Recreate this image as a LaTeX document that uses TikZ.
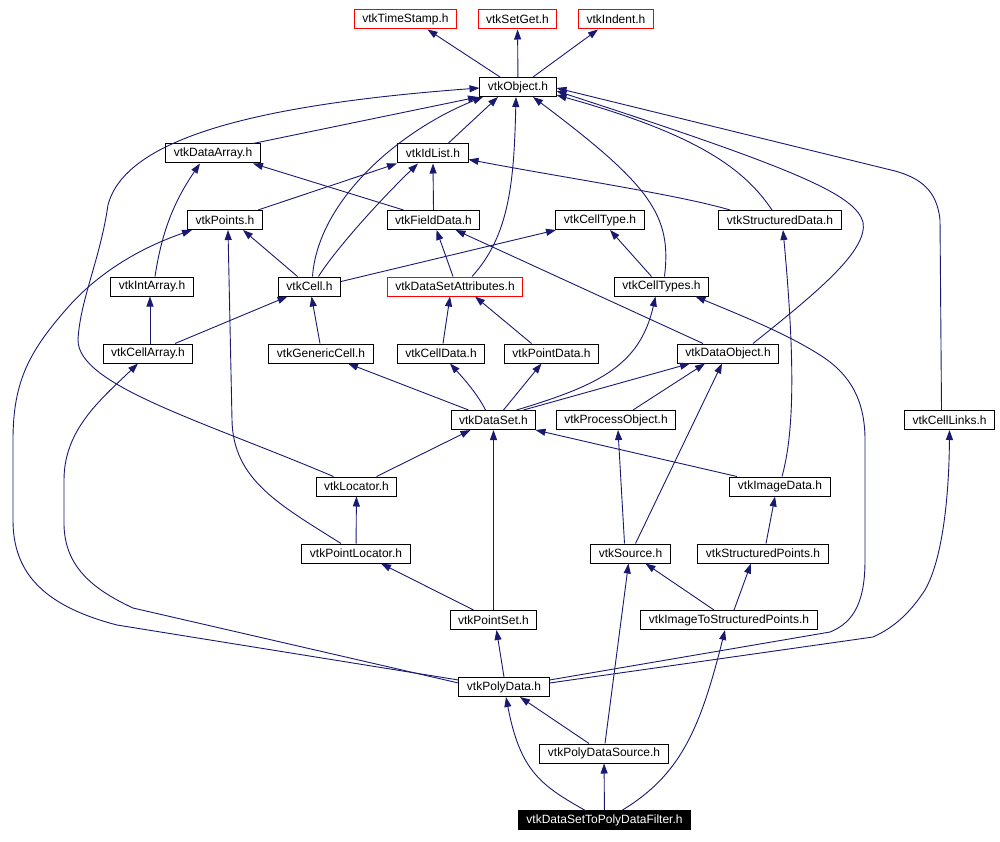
\documentclass[tikz,border=0pt]{standalone}
\usepackage{fontspec}
\setmainfont{Liberation Sans}
\usetikzlibrary{arrows.meta}
\definecolor{edgeblue}{HTML}{191970}

\begin{document}
\begin{tikzpicture}[x=1pt, y=-1pt, >={Triangle[length=10pt,width=7pt]},
  hdr/.style={draw=black, line width=1pt, fill=white, inner xsep=8pt, inner ysep=0pt,
    minimum height=19pt, font=\fontsize{12}{14}\selectfont},
  hdrmissing/.style={hdr, draw=red},
  hdrroot/.style={hdr, fill=black, text=white},
  dep/.style={->, draw=edgeblue, line width=0.9pt}]
  \useasboundingbox (0,0) rectangle (1000,842);

  \node[hdrmissing] (ts) at (405.5,19.5) {vtkTimeStamp.h};
  \node[hdrmissing] (sg) at (517.5,19.5) {vtkSetGet.h};
  \node[hdrmissing] (ind) at (616,19.5) {vtkIndent.h};
  \node[hdr] (obj) at (518,87) {vtkObject.h};
  \node[hdr] (darr) at (213,153.5) {vtkDataArray.h};
  \node[hdr] (idl) at (433,153.5) {vtkIdList.h};
  \node[hdr] (pts) at (225,220) {vtkPoints.h};
  \node[hdr] (fd) at (433.5,220) {vtkFieldData.h};
  \node[hdr] (ct) at (600,220) {vtkCellType.h};
  \node[hdr] (sd) at (780,220) {vtkStructuredData.h};
  \node[hdr] (ia) at (152,286.5) {vtkIntArray.h};
  \node[hdr] (cell) at (309.5,286.5) {vtkCell.h};
  \node[hdrmissing] (dsa) at (455,286.5) {vtkDataSetAttributes.h};
  \node[hdr] (cts) at (661.5,286.5) {vtkCellTypes.h};
  \node[hdr] (ca) at (148,353.5) {vtkCellArray.h};
  \node[hdr] (gc) at (321,353.5) {vtkGenericCell.h};
  \node[hdr] (cd) at (441,353.5) {vtkCellData.h};
  \node[hdr] (pd) at (551.5,353.5) {vtkPointData.h};
  \node[hdr] (dobj) at (728,353.5) {vtkDataObject.h};
  \node[hdr] (ds) at (493.5,420) {vtkDataSet.h};
  \node[hdr] (po) at (616,420) {vtkProcessObject.h};
  \node[hdr] (cl) at (949.5,420) {vtkCellLinks.h};
  \node[hdr] (loc) at (356.5,486.5) {vtkLocator.h};
  \node[hdr] (img) at (780,486.5) {vtkImageData.h};
  \node[hdr] (ploc) at (356,553.5) {vtkPointLocator.h};
  \node[hdr] (src) at (630.5,553.5) {vtkSource.h};
  \node[hdr] (spts) at (763,553.5) {vtkStructuredPoints.h};
  \node[hdr] (pset) at (493.5,620) {vtkPointSet.h};
  \node[hdr] (itsp) at (729,620) {vtkImageToStructuredPoints.h};
  \node[hdr] (poly) at (504,687) {vtkPolyData.h};
  \node[hdr] (pds) at (604,753.5) {vtkPolyDataSource.h};
  \node[hdrroot] (filt) at (604.5,820) {vtkDataSetToPolyDataFilter.h};

  \draw[dep] ([xshift=-18pt]obj.north) -- ([xshift=22pt]ts.south);
  \draw[dep] (obj) -- (sg);
  \draw[dep] ([xshift=15pt]obj.north) -- ([xshift=-18pt]ind.south);

  \draw[dep] ([xshift=-23pt]loc.north) .. controls (200,420) and (78,385) .. (78,340)
    .. controls (80,300) and (100,260) .. (108,205)
    .. controls (125,140) and (250,105) .. ([yshift=-1pt]obj.west);
  \draw[dep] ([xshift=40pt]darr.north) -- ([xshift=-40pt]obj.south);
  \draw[dep] ([xshift=15pt]idl.north) -- ([xshift=-20pt]obj.south);
  \draw[dep] ([xshift=3pt]cell.north) .. controls (318,200) and (400,130) .. ([xshift=-35pt]obj.south);
  \draw[dep] ([xshift=17pt]dsa.north) .. controls (510,235) and (514,180) .. ([xshift=-2pt]obj.south);
  \draw[dep] ([xshift=3pt]cts.north) .. controls (672,215) and (650,185) .. ([xshift=15pt]obj.south);
  \draw[dep] ([xshift=-8pt]sd.north) .. controls (745,170) and (700,135) .. ([yshift=-8pt]obj.east);
  \draw[dep] ([xshift=25pt]dobj.north) .. controls (820,290) and (868,250) .. (863,222)
    .. controls (855,195) and (800,170) .. ([yshift=-4pt]obj.east);
  \draw[dep] ([xshift=-8pt]cl.north) -- (940,220) .. controls (937,190) and (920,178) .. (895,171)
    -- ([yshift=-1pt]obj.east);

  \draw[dep] (fd.north) -- (idl.south);
  \draw[dep] ([xshift=-30pt]fd.north) -- ([xshift=40pt]darr.south);
  \draw[dep] ([xshift=33pt]pts.north) -- ([xshift=-36pt]idl.south);
  \draw[dep] ([xshift=9pt]cell.north) .. controls (335,250) and (380,200) .. ([xshift=-15pt]idl.south);
  \draw[dep] ([xshift=-12pt]cell.north) -- ([xshift=18pt]pts.south);
  \draw[dep] ([yshift=5pt]cell.east) -- ([xshift=-44pt]ct.south);
  \draw[dep] ([xshift=3pt]ia.north) .. controls (162,230) and (175,200) .. ([xshift=-13pt]darr.south);
  \draw[dep] ([xshift=2pt]ca.north) -- ([xshift=-2pt]ia.south);
  \draw[dep] ([xshift=27pt]ca.north) -- ([xshift=-22pt]cell.south);
  \draw[dep] ([xshift=-1pt]gc.north) -- ([xshift=2pt]cell.south);
  \draw[dep] ([xshift=-2pt]dsa.north) -- ([xshift=3pt]fd.south);
  \draw[dep] ([xshift=-50pt]sd.north) .. controls (680,195) and (560,177) .. ([yshift=-6pt]idl.east);
  \draw[dep] ([xshift=-10pt]cts.north) -- ([xshift=10pt]ct.south);
  \draw[dep] ([xshift=-25pt]dobj.north) -- ([xshift=22pt]fd.south);
  \draw[dep] ([xshift=2pt]cd.north) -- ([xshift=-5pt]dsa.south);
  \draw[dep] ([xshift=-20pt]pd.north) -- ([xshift=20pt]dsa.south);

  \draw[dep] ([xshift=-25pt]ds.north) -- ([xshift=27pt]gc.south);
  \draw[dep] ([xshift=-8pt]ds.north) .. controls (478,395) and (465,380) .. ([xshift=9pt]cd.south);
  \draw[dep] ([xshift=10pt]ds.north) -- ([xshift=-10pt]pd.south);
  \draw[dep] ([xshift=23pt]ds.north) .. controls (600,385) and (640,365) .. ([xshift=-6pt]cts.south);
  \draw[dep] ([xshift=30pt]ds.north) -- ([xshift=-38pt]dobj.south);
  \draw[dep] ([xshift=17pt]po.north) -- ([xshift=-23pt]dobj.south);
  \draw[dep] ([xshift=20pt]loc.north) -- ([xshift=-23pt]ds.south);
  \draw[dep] ([xshift=-43pt]img.north) -- ([xshift=42pt]ds.south);
  \draw[dep] ([xshift=2pt]img.north) .. controls (792,440) and (797,380) .. ([xshift=3pt]sd.south);

  \draw[dep] (ploc) -- (loc);
  \draw[dep] ([xshift=-15pt]ploc.north) .. controls (280,505) and (233,480) .. (232,420)
    -- ([xshift=3pt]pts.south);
  \draw[dep] ([xshift=-6pt]src.north) -- ([xshift=2pt]po.south);
  \draw[dep] ([xshift=5pt]src.north) -- ([xshift=-6pt]dobj.south);
  \draw[dep] ([xshift=3pt]spts.north) -- ([xshift=-5pt]img.south);
  \draw[dep] ([xshift=-20pt]pset.north) -- ([xshift=25pt]ploc.south);
  \draw[dep] (pset) -- (ds);
  \draw[dep] ([xshift=-15pt]itsp.north) -- ([xshift=15pt]src.south);
  \draw[dep] ([xshift=5pt]itsp.north) -- ([xshift=-12pt]spts.south);

  \draw[dep] (poly.north) -- ([xshift=3pt]pset.south);
  \draw[dep] ([yshift=7pt]poly.west) -- (117,625) .. controls (40,605) and (13,570) .. (13,520)
    -- (13,440) .. controls (13,380) and (30,350) .. (70,305)
    .. controls (100,272) and (140,248) .. ([xshift=-33pt]pts.south);
  \draw[dep] ([yshift=4pt]poly.west) -- (133,608) .. controls (90,588) and (65,565) .. (64,525)
    -- (64,480) .. controls (64,430) and (100,400) .. ([xshift=-10pt]ca.south);
  \draw[dep] ([yshift=7pt]poly.east) -- (830,632) .. controls (855,622) and (865,600) .. (865,560)
    -- (865,440) .. controls (865,400) and (850,375) .. (823,357)
    .. controls (790,335) and (740,315) .. ([xshift=34pt]cts.south);
  \draw[dep] ([yshift=4pt]poly.east) -- (873,637) .. controls (900,625) and (915,605) .. (925,590)
    .. controls (942,560) and (949,500) .. (cl.south);

  \draw[dep] ([xshift=-15pt]pds.north) -- ([xshift=16pt]poly.south);
  \draw[dep] ([xshift=1pt]pds.north) -- ([xshift=-2pt]src.south);
  \draw[dep] (filt) -- (pds);
  \draw[dep] ([xshift=-20pt]filt.north) .. controls (540,785) and (520,770) .. ([xshift=2pt]poly.south);
  \draw[dep] ([xshift=18pt]filt.north) .. controls (680,775) and (700,730) .. ([xshift=-4pt]itsp.south);
\end{tikzpicture}
\end{document}
